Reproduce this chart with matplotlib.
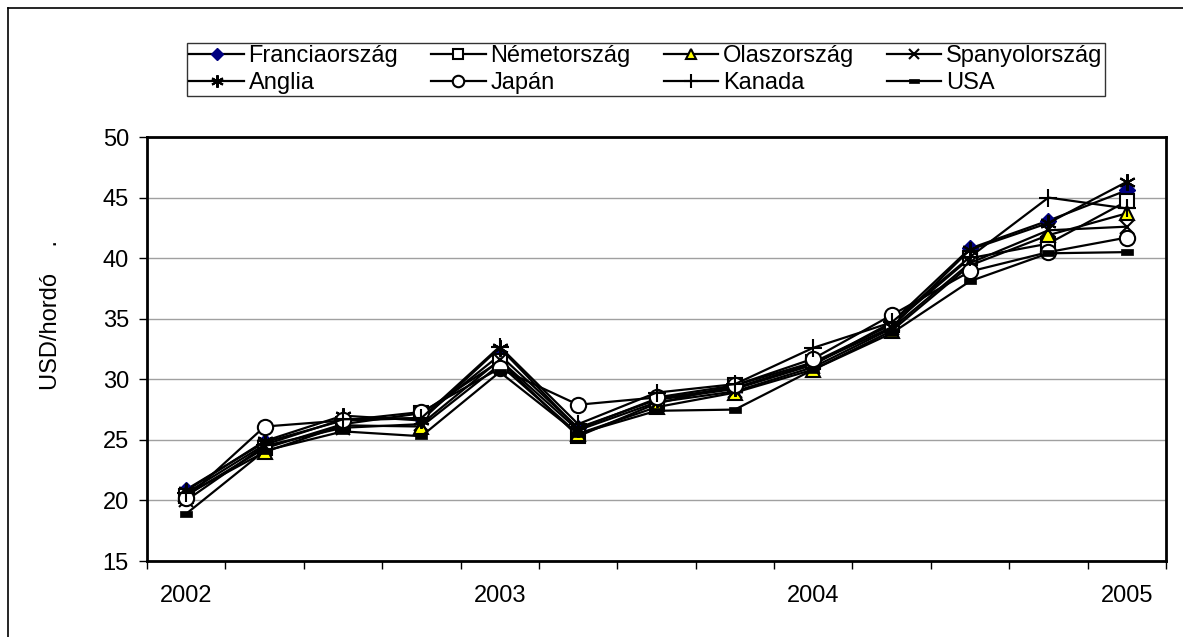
import matplotlib
matplotlib.use('Agg')
import matplotlib.pyplot as plt
from matplotlib.lines import Line2D

plt.rcParams['font.family'] = ['Liberation Sans', 'DejaVu Sans']

# quarterly data, 2002 Q1 .. 2005 Q1
quarters = list(range(1, 14))
year_labels = ['2002', '2003', '2004', '2005']
year_pos = [1, 5, 9, 13]

francia = [20.9, 24.8, 26.6, 26.8, 32.0, 26.0, 28.3, 29.2, 31.2, 34.7, 40.8, 43.1, 45.6]
nemet = [20.4, 24.3, 26.3, 27.2, 31.5, 25.3, 28.0, 29.5, 31.4, 34.5, 40.0, 41.2, 44.7]
olasz = [20.5, 24.0, 26.2, 26.1, 31.2, 25.5, 27.7, 28.9, 30.8, 34.0, 39.4, 41.9, 43.7]
spanyol = [20.0, 24.5, 26.0, 26.3, 31.6, 25.8, 28.1, 29.0, 31.0, 34.2, 39.6, 42.3, 42.6]
anglia = [20.8, 24.9, 27.0, 26.6, 32.6, 25.9, 28.4, 29.3, 31.3, 34.3, 40.7, 42.9, 46.3]
japan = [20.2, 26.1, 26.6, 27.3, 30.9, 27.9, 28.5, 29.5, 31.7, 35.3, 38.9, 40.5, 41.7]
kanada = [20.6, 24.6, 26.7, 26.8, 32.7, 26.3, 28.9, 29.6, 32.6, 34.7, 40.1, 45.0, 44.1]
usa = [18.9, 24.1, 25.7, 25.3, 30.6, 25.5, 27.4, 27.5, 30.8, 33.8, 38.1, 40.4, 40.5]

names = ['Franciaország', 'Németország', 'Olaszország', 'Spanyolország',
         'Anglia', 'Japán', 'Kanada', 'USA']

usa_marker = [(-1, -0.45), (1, -0.45), (1, 0.45), (-1, 0.45), (-1, -0.45)]

styles = [
    dict(marker='D', mfc='#000080', mec='#000080', ms=8.5),
    dict(marker='s', mfc='white', mec='black', ms=10, mew=1.5),
    dict(marker='^', mfc='#ffff00', mec='black', ms=9.5, mew=1.5),
    dict(marker='x', mfc='none', mec='black', ms=10, mew=1.5),
    dict(marker=(6, 2, 0), mfc='none', mec='black', ms=12, mew=1.5),
    dict(marker='o', mfc='white', mec='black', ms=11, mew=1.5),
    dict(marker='+', mfc='none', mec='black', ms=13, mew=1.5),
    dict(marker=usa_marker, mfc='black', mec='black', ms=9, mew=0.5),
]

fig = plt.figure(figsize=(11.83, 6.37), dpi=100)
ax = fig.add_axes([0.1243, 0.1193, 0.8613, 0.6656])

series = [francia, nemet, olasz, spanyol, anglia, japan, kanada, usa]
lines = []
for vals, name, st in zip(series, names, styles):
    ln, = ax.plot(quarters, vals, color='black', lw=1.6, label=name, **st)
    lines.append(ln)

ax.set_xlim(0.5, 13.5)
ax.set_ylim(15, 50)
ax.set_yticks(range(15, 51, 5))
ax.yaxis.grid(True, color='#a0a0a0', lw=1)
ax.set_axisbelow(True)

ax.set_xticks(year_pos)
ax.set_xticklabels(year_labels)
ax.set_xticks([q + 0.5 for q in range(0, 14)], minor=True)
ax.tick_params(axis='x', which='major', length=0, pad=17, labelsize=17)
ax.tick_params(axis='x', which='minor', length=6, width=1, direction='out')
ax.tick_params(axis='y', length=6, width=1, labelsize=17, pad=7)

for sp in ax.spines.values():
    sp.set_linewidth(2)
    sp.set_color('black')

ax.set_ylabel('USD/hordó    .', fontsize=17)
ax.yaxis.set_label_coords(-0.083, 0.58)

# legend filled row by row like the original
order = [0, 4, 1, 5, 2, 6, 3, 7]
leg = fig.legend([lines[i] for i in order], [names[i] for i in order],
                 loc='center', bbox_to_anchor=(0.546, 0.891), ncol=4,
                 fontsize=17, frameon=True, fancybox=False, edgecolor='black',
                 handlelength=2.3, handletextpad=0.2, columnspacing=1.4,
                 borderpad=0.1, labelspacing=0.2, borderaxespad=0)
leg.get_frame().set_linewidth(1)
for h in leg.legend_handles:
    h.set_markersize(h.get_markersize() * 0.75)

# outer frame of the chart area
fig.add_artist(Line2D([8 / 1183, 1.0], [1 - 8 / 637, 1 - 8 / 637], color='black', lw=1.2))
fig.add_artist(Line2D([8 / 1183, 8 / 1183], [0, 1 - 8 / 637], color='black', lw=1.2))

fig.savefig('out.png', dpi=100)
